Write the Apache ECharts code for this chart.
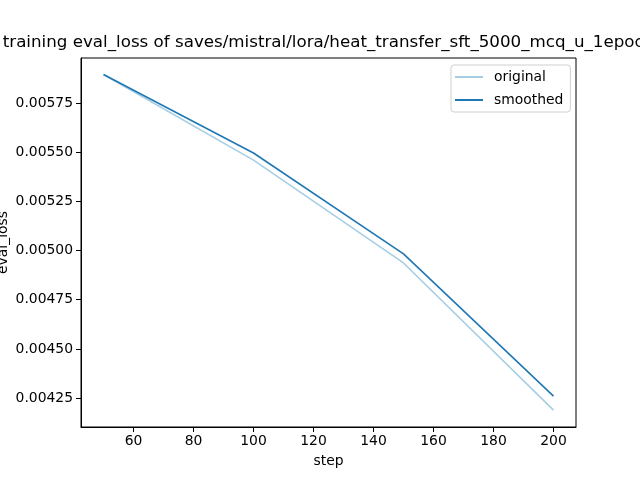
<!DOCTYPE html>
<html>
<head>
<meta charset="utf-8">
<script src="https://cdn.jsdelivr.net/npm/echarts@6/dist/echarts.min.js"></script>
<style>html,body{margin:0;padding:0;background:#fff}#c{width:640px;height:480px}</style>
</head>
<body>
<div id="c"></div>
<script>
const titleText = 'training eval_loss of saves/mistral/lora/heat_transfer_sft_5000_mcq_u_1epoch';
const steps = [50, 100, 150, 200];
const original = [0.005895, 0.00546, 0.004937, 0.004189];
const smoothed = [0.005895, 0.005496, 0.004983, 0.00426];
const xTicks = [60, 80, 100, 120, 140, 160, 180, 200];
const yTicks = [0.00425, 0.0045, 0.00475, 0.005, 0.00525, 0.0055, 0.00575];

const FONT = 'DejaVu Sans';
const FS = 13.9;
const chart = echarts.init(document.getElementById('c'), null, {renderer: 'canvas'});
chart.setOption({
  animation: false,
  backgroundColor: '#fff',
  title: {
    text: titleText,
    left: 328.5,
    top: 34,
    textAlign: 'center',
    padding: 0,
    textStyle: {fontFamily: FONT, fontSize: 16.7, fontWeight: 'normal', color: '#000'}
  },
  grid: {left: 81, right: 64, top: 58, bottom: 53, show: true, borderColor: '#000', borderWidth: 1,
    backgroundColor: 'transparent', containLabel: false, outerBoundsMode: 'none'},
  legend: {
    left: 451, top: 65, orient: 'vertical',
    padding: [5, 7, 5, 4],
    itemGap: 9,
    itemWidth: 28, itemHeight: 2,
    icon: 'rect',
    backgroundColor: '#fff',
    borderColor: '#d0d0d0', borderWidth: 1, borderRadius: 3,
    textStyle: {fontFamily: FONT, fontSize: FS, color: '#000', padding: [0, 0, 0, 6]},
    data: ['original', 'smoothed']
  },
  xAxis: {
    type: 'value', min: 42.5, max: 207.5,
    name: 'step', nameLocation: 'middle', nameGap: 27, nameMoveOverlap: false,
    nameTextStyle: {fontFamily: FONT, fontSize: FS, color: '#000'},
    axisLine: {show: true, lineStyle: {color: '#000', width: 1}},
    axisTick: {show: true, length: 5, lineStyle: {color: '#000'}, customValues: xTicks},
    axisLabel: {fontFamily: FONT, fontSize: FS, color: '#000', margin: 7, customValues: xTicks},
    splitLine: {show: false}
  },
  yAxis: {
    type: 'value', min: 0.004103, max: 0.005979,
    name: 'eval_loss', nameLocation: 'middle', nameGap: 71, nameRotate: 90, nameMoveOverlap: false,
    nameTextStyle: {fontFamily: FONT, fontSize: FS, color: '#000'},
    axisLine: {show: true, lineStyle: {color: '#000', width: 1}},
    axisTick: {show: true, length: 5, lineStyle: {color: '#000'}, customValues: yTicks},
    axisLabel: {fontFamily: FONT, fontSize: FS, color: '#000', margin: 8, customValues: yTicks,
      formatter: v => v.toFixed(5)},
    splitLine: {show: false}
  },
  series: [
    {name: 'original', type: 'line', symbol: 'none', data: steps.map((s, i) => [s, original[i]]),
      lineStyle: {color: '#a6cee3', width: 1.6}, itemStyle: {color: '#a6cee3'}},
    {name: 'smoothed', type: 'line', symbol: 'none', data: steps.map((s, i) => [s, smoothed[i]]),
      lineStyle: {color: '#1f78b4', width: 1.6}, itemStyle: {color: '#1f78b4'}}
  ]
});
</script>
</body>
</html>
